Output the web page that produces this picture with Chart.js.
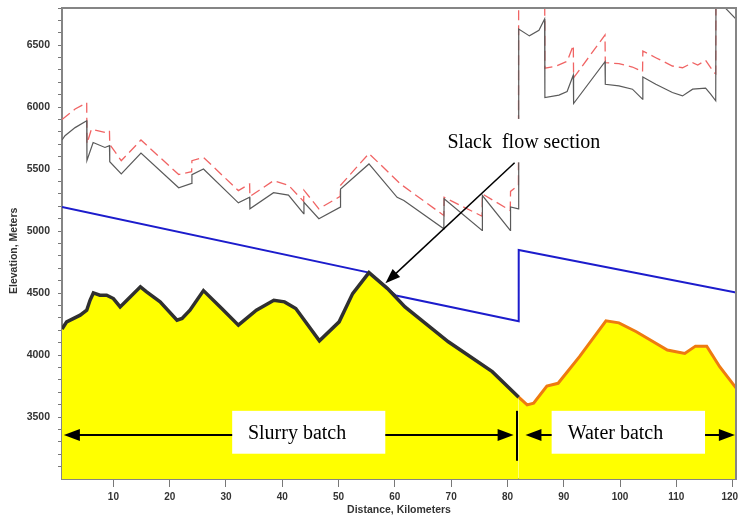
<!DOCTYPE html>
<html>
<head>
<meta charset="utf-8">
<script src="https://cdn.jsdelivr.net/npm/chart.js@4.4.0/dist/chart.umd.min.js"></script>
<style>
  html, body { margin: 0; padding: 0; background: #fff; }
  #wrap { width: 739px; height: 518px; }
</style>
</head>
<body>
<div id="wrap"><canvas id="profile" width="739" height="518"></canvas></div>
<script>
// ground profile, slurry part (km, m)
const slurryKm = [0.87, 1.7, 4.1, 5.26, 5.85, 6.44, 7.6, 8.8, 10.0, 11.2, 12.4, 14.8, 15.9, 18.3, 21.3, 22.2, 23.6, 26.0, 29.2, 32.2, 35.4, 38.5, 40.4, 42.4, 46.6, 50.1, 52.5, 55.4, 58.7, 61.8, 69.5, 77.3, 82.0];
const slurryElev = [4210, 4268, 4322, 4362, 4442, 4501, 4483, 4483, 4456, 4388, 4442, 4550, 4509, 4429, 4281, 4295, 4362, 4520, 4378, 4241, 4362, 4442, 4429, 4375, 4115, 4268, 4496, 4665, 4536, 4388, 4107, 3866, 3660];

// ground profile, water part
const waterKm = [82.0, 83.5, 84.65, 87.0, 89.0, 92.8, 97.5, 99.8, 102.9, 108.4, 111.5, 113.4, 115.4, 117.7, 120.6];
const waterElev = [3660, 3598, 3611, 3750, 3772, 3987, 4276, 4260, 4188, 4040, 4013, 4072, 4072, 3906, 3735];

// hydraulic grade line (blue)
const hglKm = [0.87, 55.4, 58.7, 60.2, 82.0, 82.0, 120.6];
const hglElev = [5195, 4665, 4536, 4480, 4272, 4848, 4505];

// gray solid line
const grayKm = [0.87, 1.4, 3.2, 5.26, 5.3, 6.4, 8.5, 9.3, 9.35, 11.4, 14.9, 21.6, 23.9, 23.95, 26.0, 32.2, 34.2, 34.25, 38.45, 41.1, 43.8, 43.85, 46.5, 50.3, 50.35, 55.4, 60.4, 61.6, 68.7, 68.75, 75.5, 75.55, 80.5, 80.55, 81.95, 82.0, 83.9, 85.6, 86.6, 86.65, 89.15, 90.6, 91.7, 91.75, 97.33, 97.38, 99.8, 102.2, 104.0, 104.05, 106.35, 109.3, 111.1, 112.9, 115.2, 116.1, 117.0, 117.05, 118.7, 120.6];
const grayElev = [5735, 5770, 5835, 5890, 5570, 5715, 5675, 5690, 5560, 5462, 5630, 5350, 5385, 5455, 5501, 5228, 5273, 5180, 5310, 5290, 5140, 5233, 5100, 5193, 5340, 5542, 5273, 5247, 5019, 5260, 5005, 5287, 5005, 5195, 5180, 6630, 6575, 6620, 6711, 6077, 6097, 6126, 6260, 6029, 6367, 6185, 6172, 6145, 6064, 6243, 6185, 6118, 6091, 6145, 6153, 6105, 6051, 7100, 6800, 6710];

// red dashed line
const redKm = [0.87, 3.2, 5.26, 5.3, 6.1, 8.5, 9.3, 9.35, 11.4, 14.9, 21.6, 23.9, 23.95, 26.0, 32.2, 34.2, 34.25, 38.45, 41.1, 43.8, 43.85, 46.5, 50.3, 50.35, 55.4, 61.0, 68.7, 68.75, 75.5, 75.55, 80.5, 80.55, 81.95, 82.0, 86.6, 86.65, 88.55, 90.6, 91.7, 91.75, 97.33, 97.38, 99.8, 102.2, 104.0, 104.05, 106.35, 109.3, 111.1, 112.9, 113.8, 115.2, 116.7, 117.0, 117.05, 120.6];
const redElev = [5900, 5985, 6035, 5705, 5823, 5796, 5810, 5700, 5568, 5735, 5456, 5480, 5568, 5595, 5327, 5380, 5279, 5407, 5370, 5240, 5330, 5180, 5280, 5370, 5626, 5380, 5126, 5273, 5120, 5300, 5166, 5320, 5370, 7200, 7200, 6315, 6330, 6370, 6498, 6236, 6582, 6359, 6351, 6324, 6287, 6453, 6399, 6332, 6318, 6359, 6340, 6378, 6279, 6270, 7200, 7200];

// axis ticks
const xTicks = [10, 20, 30, 40, 50, 60, 70, 80, 90, 100, 110, 120];
const yLabels = [3500, 4000, 4500, 5000, 5500, 6000, 6500];

const pts = (xs, ys) => xs.map((v, i) => ({ x: v, y: ys[i] }));

function arrowHead(ctx, x1, y1, x2, y2, len, half) {
  const a = Math.atan2(y2 - y1, x2 - x1);
  ctx.beginPath();
  ctx.moveTo(x2, y2);
  ctx.lineTo(x2 - len * Math.cos(a) + half * Math.sin(a), y2 - len * Math.sin(a) - half * Math.cos(a));
  ctx.lineTo(x2 - len * Math.cos(a) - half * Math.sin(a), y2 - len * Math.sin(a) + half * Math.cos(a));
  ctx.closePath();
  ctx.fill();
}

function arrow(ctx, x1, y1, x2, y2, len, half) {
  const a = Math.atan2(y2 - y1, x2 - x1);
  ctx.beginPath();
  ctx.moveTo(x1, y1);
  ctx.lineTo(x2 - (len - 2) * Math.cos(a), y2 - (len - 2) * Math.sin(a));
  ctx.stroke();
  arrowHead(ctx, x1, y1, x2, y2, len, half);
}

const notes = {
  id: 'notes',
  afterDatasetsDraw(chart) {
    const { ctx, scales: { x, y } } = chart;
    const px = v => x.getPixelForValue(v);
    const py = v => y.getPixelForValue(v);
    ctx.save();
    ctx.fillStyle = '#fff';
    // white boxes behind the labels
    ctx.fillRect(px(68.2), py(5905), px(97.8) - px(68.2), py(5555) - py(5905));
    ctx.fillRect(px(31.1), py(3550), px(58.3) - px(31.1), py(3204) - py(3550));
    ctx.fillRect(px(87.85), py(3550), px(115.1) - px(87.85), py(3204) - py(3550));

    ctx.fillStyle = '#000';
    ctx.font = '20px "Liberation Serif", "Times New Roman", serif';
    ctx.textBaseline = 'alphabetic';
    ctx.fillText('Slack  flow section', px(69.35), py(5673));
    ctx.fillText('Slurry batch', px(33.9), py(3320));
    ctx.fillText('Water batch', px(90.7), py(3320));

    ctx.strokeStyle = '#000';
    ctx.lineWidth = 1.5;
    // slack flow pointer
    arrow(ctx, px(81.27), py(5552), px(58.32), py(4579), 15, 5.5);

    // batch arrows
    ctx.lineWidth = 2;
    const ay = py(3355);
    arrow(ctx, px(31.1), ay, px(1.2), ay, 16, 6);
    arrow(ctx, px(58.3), ay, px(81.1), ay, 16, 6);
    arrow(ctx, px(87.85), ay, px(83.2), ay, 16, 6);
    arrow(ctx, px(115.1), ay, px(120.4), ay, 16, 6);

    ctx.lineWidth = 2;
    ctx.beginPath();
    ctx.moveTo(px(81.7), py(3550));
    ctx.lineTo(px(81.7), py(3147));
    ctx.stroke();
    ctx.restore();
  },
  afterDraw(chart) {
    const { ctx, chartArea: a } = chart;
    ctx.save();
    ctx.strokeStyle = '#858585';
    ctx.lineWidth = 2;
    ctx.beginPath();
    ctx.moveTo(a.left, a.top);
    ctx.lineTo(a.right, a.top);
    ctx.lineTo(a.right, a.bottom);
    ctx.stroke();
    ctx.restore();
  }
};

const tickFont = { family: '"Liberation Sans", Arial, sans-serif', size: 10.5, weight: 'bold' };
const xTickFont = { family: '"Liberation Sans", Arial, sans-serif', size: 10, weight: 'bold' };

new Chart(document.getElementById('profile'), {
  type: 'line',
  data: {
    datasets: [
      {
        data: pts(slurryKm, slurryElev),
        borderColor: '#303030',
        borderWidth: 3.5,
        backgroundColor: '#ffff00',
        fill: 'start',
        pointRadius: 0
      },
      {
        data: pts(waterKm, waterElev),
        borderColor: '#ee7a10',
        borderWidth: 3,
        backgroundColor: '#ffff00',
        fill: 'start',
        pointRadius: 0
      },
      {
        data: pts(hglKm, hglElev),
        borderColor: '#1c1ccc',
        borderWidth: 2,
        fill: false,
        pointRadius: 0
      },
      {
        data: pts(grayKm, grayElev),
        borderColor: '#5a5a5a',
        borderWidth: 1.2,
        fill: false,
        pointRadius: 0
      },
      {
        data: pts(redKm, redElev),
        borderColor: '#f06464',
        borderWidth: 1.3,
        borderDash: [10, 5],
        fill: false,
        pointRadius: 0
      }
    ]
  },
  options: {
    responsive: false,
    animation: false,
    devicePixelRatio: 1,
    layout: { padding: { top: 8, right: 3, left: 0, bottom: 0 } },
    plugins: {
      legend: { display: false },
      tooltip: { enabled: false }
    },
    scales: {
      x: {
        type: 'linear',
        min: 0.87,
        max: 120.6,
        afterBuildTicks: axis => { axis.ticks = xTicks.map(v => ({ value: v })); },
        afterFit: axis => { axis.height = 39; axis.paddingLeft = 0; axis.paddingRight = 0; },
        ticks: {
          font: xTickFont,
          color: '#333',
          padding: 4,
          maxRotation: 0,
          autoSkip: false,
          // last label sits against the canvas edge, nudge it left
          callback: v => (v === 120 ? '120\u00a0\u00a0' : String(v))
        },
        grid: { drawOnChartArea: false, tickLength: 8, tickColor: '#777', tickWidth: 1 },
        border: { color: '#858585', width: 2 },
        title: { display: true, text: 'Distance, Kilometers', font: tickFont, color: '#333', padding: { top: 0, bottom: 2 } }
      },
      y: {
        type: 'linear',
        min: 3000,
        max: 6800,
        afterBuildTicks: axis => {
          const t = [];
          for (let v = 3100; v <= 6800; v += 100) t.push({ value: v });
          axis.ticks = t;
        },
        afterFit: axis => { axis.width = 62; axis.paddingTop = 0; axis.paddingBottom = 0; },
        ticks: {
          font: tickFont,
          color: '#333',
          padding: 8,
          autoSkip: false,
          callback: v => (yLabels.includes(v) ? String(v) : '')
        },
        grid: {
          drawOnChartArea: false,
          tickLength: 4,
          tickColor: '#777',
          tickWidth: 1
        },
        border: { color: '#858585', width: 2 },
        title: {
          display: true,
          text: 'Elevation, Meters\u00a0\u00a0\u00a0\u00a0\u00a0',
          font: tickFont,
          color: '#333',
          padding: { top: 8, bottom: 0 }
        }
      }
    }
  },
  plugins: [notes]
});
</script>
</body>
</html>
